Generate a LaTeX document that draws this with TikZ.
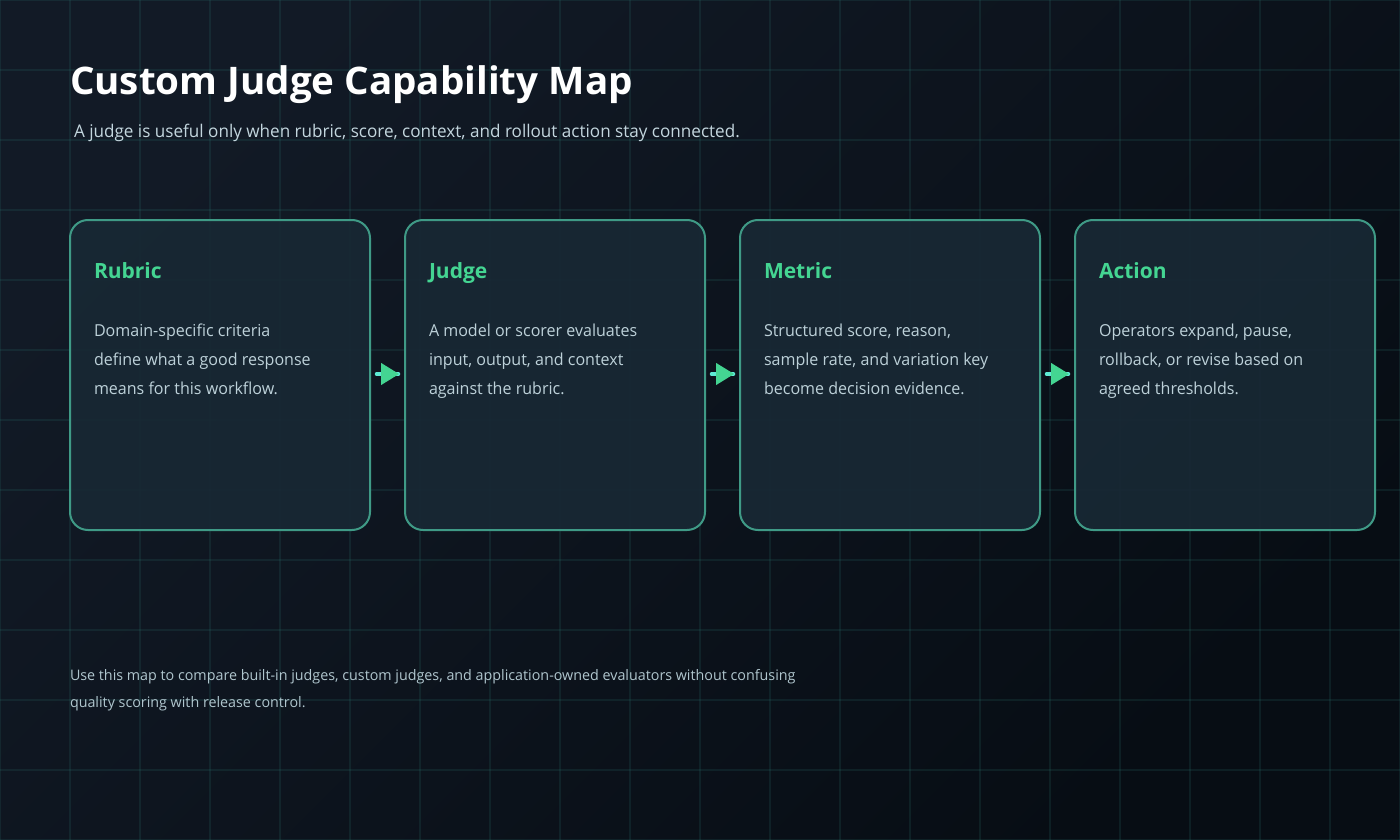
\documentclass[tikz,border=0pt]{standalone}
\usepackage{fontspec}
\setmainfont{Open Sans}
\usetikzlibrary{arrows.meta}
\definecolor{bgA}{HTML}{121A26}
\definecolor{bgB}{HTML}{070D14}
\definecolor{gridc}{HTML}{2F7F78}
\definecolor{cardf}{HTML}{182834}
\definecolor{cardl}{HTML}{3F9A86}
\definecolor{accent}{HTML}{44D592}
\definecolor{linkc}{HTML}{5EEAD4}
\definecolor{subc}{HTML}{C3D6DE}
\definecolor{bodyc}{HTML}{BDD1D9}
\definecolor{footc}{HTML}{B0C6CE}
\newfontfamily\subfont{Open Sans}[FakeStretch=0.977]
\newfontfamily\bodyfont{Open Sans}[FakeStretch=0.973]
\newfontfamily\footfont{Open Sans}[FakeStretch=0.986]
\newfontfamily\titlefont{Open Sans}[FakeStretch=1.015]
\tikzset{
  x=1pt,y=-1pt,
  txt/.style={anchor=base west,inner sep=0pt,outer sep=0pt,align=left},
  cardbox/.style={draw=cardl,line width=2pt,fill=cardf,fill opacity=.93,rounded corners=18pt,minimum width=300pt,minimum height=310pt,inner sep=0pt,outer sep=0pt},
  cardtitle/.style={txt,text=accent,font=\fontsize{21}{26}\selectfont\bfseries},
  cardbody/.style={txt,text=bodyc,font=\bodyfont\fontsize{16.5}{29}\selectfont},
  gridline/.style={draw=gridc,line width=1.6pt,opacity=.16},
  linkline/.style={draw=linkc,line width=3.5pt,line cap=round,shorten <=6.5pt,shorten >=6.5pt},
  linkhead/.style={draw=accent,line width=1pt,-{Triangle[length=18pt,width=22pt,fill=accent]},shorten <=11pt,shorten >=6pt},
}
\begin{document}
\begin{tikzpicture}
\useasboundingbox (0,0) rectangle (1400,840);
\shade[left color=bgA,right color=bgB,shading angle=45] (0,0) rectangle (1400,840);
\foreach \gx in {0,70,...,1400} \draw[gridline] (\gx,0) -- (\gx,840);
\foreach \gy in {0,70,...,840} \draw[gridline] (0,\gy) -- (1400,\gy);

\node[txt,text=white,font=\titlefont\fontsize{38}{44}\selectfont\bfseries] (title) at (70,95) {Custom Judge Capability Map};
\node[txt,text=subc,font=\subfont\fontsize{17.5}{22}\selectfont] (sub) at (74,138) {A judge is useful only when rubric, score, context, and rollout action stay connected.};

\node[cardbox] (c1) at (220,375) {};
\node[cardbox] (c2) at (555,375) {};
\node[cardbox] (c3) at (890,375) {};
\node[cardbox] (c4) at (1225,375) {};

\node[cardtitle] (t1) at (94,278) {Rubric};
\node[cardtitle] (t2) at (429,278) {Judge};
\node[cardtitle] (t3) at (764,278) {Metric};
\node[cardtitle] (t4) at (1099,278) {Action};

\node[cardbody] (b1) at (94,394) {Domain-specific criteria\\define what a good response\\means for this workflow.};
\node[cardbody] (b2) at (429,394) {A model or scorer evaluates\\input, output, and context\\against the rubric.};
\node[cardbody] (b3) at (764,394) {Structured score, reason,\\sample rate, and variation key\\become decision evidence.};
\node[cardbody] (b4) at (1099,394) {Operators expand, pause,\\rollback, or revise based on\\agreed thresholds.};

\foreach \a/\b in {c1/c2,c2/c3,c3/c4}{
  \draw[linkline] ([yshift=1pt]\a.east) -- ([yshift=1pt]\b.west);
  \draw[linkhead] ([yshift=1pt]\a.east) -- ([yshift=1pt]\b.west);
}

\node[txt,text=footc,font=\footfont\fontsize{14.5}{27}\selectfont] (foot) at (70,707) {Use this map to compare built-in judges, custom judges, and application-owned evaluators without confusing\\quality scoring with release control.};
\end{tikzpicture}
\end{document}
